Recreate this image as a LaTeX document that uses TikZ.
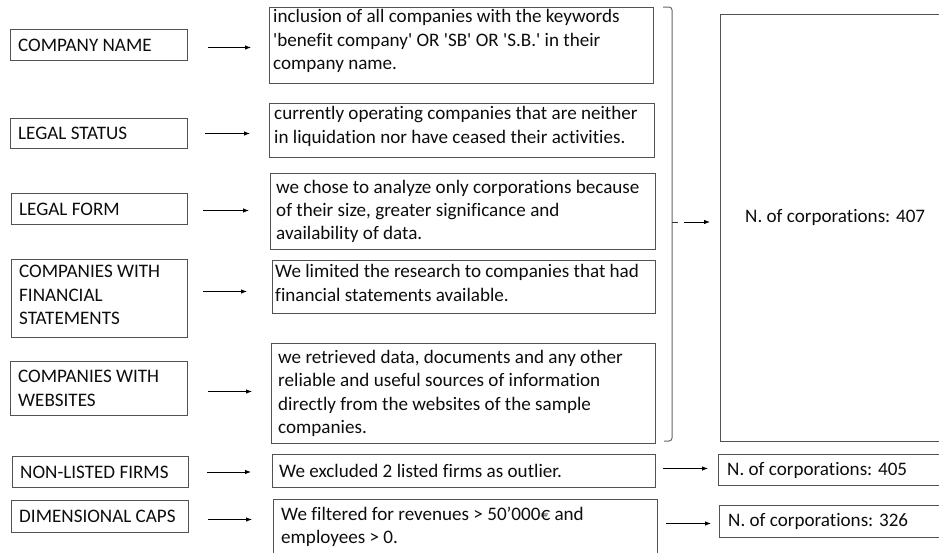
\documentclass[tikz,border=0pt]{standalone}
\usepackage{fontspec}
\setmainfont{Carlito}[Ligatures={NoCommon}]
\usetikzlibrary{arrows.meta}
\begin{document}
\begin{tikzpicture}[x=1pt,y=-1pt,
  box/.style={draw=black!68, line width=1pt, inner sep=0pt, anchor=north west},
  txt/.style={anchor=west, align=left, inner sep=0pt, font=\fontsize{19.1pt}{23.3pt}\selectfont, text=black!95},
  arr/.style={draw=black, line width=0.8pt, -{Latex[length=6pt,width=4.5pt]}},
  brk/.style={draw=black!60, line width=1pt}]
\useasboundingbox (0,0) rectangle (939,552);
\clip (0,0) rectangle (939,552);

% left boxes
\node[box, minimum width=177pt, minimum height=31pt] (L1) at (10,29) {};
\node[box, minimum width=177pt, minimum height=30pt] (L2) at (10,118) {};
\node[box, minimum width=176pt, minimum height=31pt] (L3) at (11,193) {};
\node[box, minimum width=176pt, minimum height=78pt] (L4) at (11,259) {};
\node[box, minimum width=177pt, minimum height=54pt] (L5) at (10,361) {};
\node[box, minimum width=176pt, minimum height=31pt] (L6) at (12,456) {};
\node[box, minimum width=177pt, minimum height=32pt] (L7) at (11,500) {};

\node[txt] (L1t) at ([xshift=8pt]L1.west) {COMPANY NAME};
\node[txt] (L2t) at ([xshift=8pt]L2.west) {LEGAL STATUS};
\node[txt] (L3t) at ([xshift=8pt]L3.west) {LEGAL FORM};
\node[txt] (L4t) at ([xshift=8pt,yshift=3.5pt]L4.west) {COMPANIES WITH\\FINANCIAL\\STATEMENTS};
\node[txt] (L5t) at ([xshift=8pt]L5.west) {COMPANIES WITH\\WEBSITES};
\node[txt] (L6t) at ([xshift=8pt]L6.west) {NON-LISTED FIRMS};
\node[txt] (L7t) at ([xshift=8pt]L7.west) {DIMENSIONAL CAPS};

% description boxes
\node[box, minimum width=384pt, minimum height=76pt] (D1) at (269,7) {};
\node[box, minimum width=385pt, minimum height=54pt] (D2) at (269,103) {};
\node[box, minimum width=385pt, minimum height=76pt] (D3) at (270,173) {};
\node[box, minimum width=383pt, minimum height=53pt] (D4) at (272,260) {};
\node[box, minimum width=384pt, minimum height=100pt] (D5) at (271,343) {};
\node[box, minimum width=383pt, minimum height=33pt] (D6) at (272,454) {};
\node[box, minimum width=384pt, minimum height=54pt] (D7) at (273,499) {};

\node[txt] (D1t) at ([xshift=4pt,yshift=4.5pt]D1.west) {inclusion of all companies with the keywords\\\textquotesingle benefit company\textquotesingle{} OR \textquotesingle SB\textquotesingle{} OR \textquotesingle S.B.\textquotesingle{} in their\\company name.};
\node[txt] (D2t) at ([xshift=5pt,yshift=4pt]D2.west) {currently operating companies that are neither\\in liquidation nor have ceased their activities.};
\node[txt] (D3t) at ([xshift=6pt]D3.west) {we chose to analyze only corporations because\\of their size, greater significance and\\availability of data.};
\node[txt] (D4t) at ([xshift=3pt,yshift=4pt]D4.west) {We limited the research to companies that had\\financial statements available.};
\node[txt] (D5t) at ([xshift=7pt]D5.west) {we retrieved data, documents and any other\\reliable and useful sources of information\\directly from the websites of the sample\\companies.};
\node[txt] (D6t) at ([xshift=7pt]D6.west) {We excluded 2 listed firms as outlier.};
\node[txt] (D7t) at ([xshift=8pt]D7.west) {We filtered for revenues > 50’000€ and\\employees > 0.};

% result boxes
\node[box, minimum width=230pt, minimum height=427pt] (R407) at (720,14) {};
\node[box, minimum width=232pt, minimum height=31pt] (R405) at (718,454) {};
\node[box, minimum width=231pt, minimum height=32pt] (R326) at (719,505) {};

\node[txt] (R407t) at ([xshift=25pt,yshift=11pt]R407.west) {N. of corporations: 407};
\node[txt] (R405t) at ([xshift=9pt]R405.west) {N. of corporations: 405};
\node[txt] (R326t) at ([xshift=9pt]R326.west) {N. of corporations: 326};

% bracket
\draw[brk, rounded corners=3pt] (663,7) -- (672,7) -- (672,441) -- (664,441);
\coordinate (brtip) at (678,222);
\draw[brk, draw=black!80] (672,222) -- (brtip);

% arrows
\coordinate (a1) at ([yshift=-2.5pt]L1.east);
\coordinate (a2) at (L2.east);
\coordinate (a3) at ([yshift=-1.5pt]L3.east);
\coordinate (a4) at ([yshift=7pt]L4.east);
\coordinate (a5) at ([yshift=-3pt]L5.east);
\coordinate (a6) at (L6.east);
\coordinate (a7) at ([yshift=-3pt]L7.east);
\draw[arr, shorten <=20pt, shorten >=18pt] (a1) -- (a1 -| D1.west);
\draw[arr, shorten <=17pt, shorten >=19pt] (a2) -- (a2 -| D2.west);
\draw[arr, shorten <=15pt, shorten >=21pt] (a3) -- (a3 -| D3.west);
\draw[arr, shorten <=15pt, shorten >=25pt] (a4) -- (a4 -| D4.west);
\draw[arr, shorten <=20pt, shorten >=19pt] (a5) -- (a5 -| D5.west);
\draw[arr, shorten <=18pt, shorten >=21pt] (a6) -- (a6 -| D6.west);
\draw[arr, shorten <=19pt, shorten >=21pt] (a7) -- (a7 -| D7.west);

\coordinate (a8) at ([yshift=2.5pt]D6.east);
\coordinate (a9) at ([yshift=3pt]D7.east);
\draw[arr, shorten <=7pt, shorten >=10pt] (a8) -- (a8 -| R405.west);
\draw[arr, shorten <=8pt, shorten >=8pt] (a9) -- (a9 -| R326.west);
\draw[arr, shorten <=6pt, shorten >=10pt] (brtip) -- (brtip -| R407.west);
\end{tikzpicture}
\end{document}
